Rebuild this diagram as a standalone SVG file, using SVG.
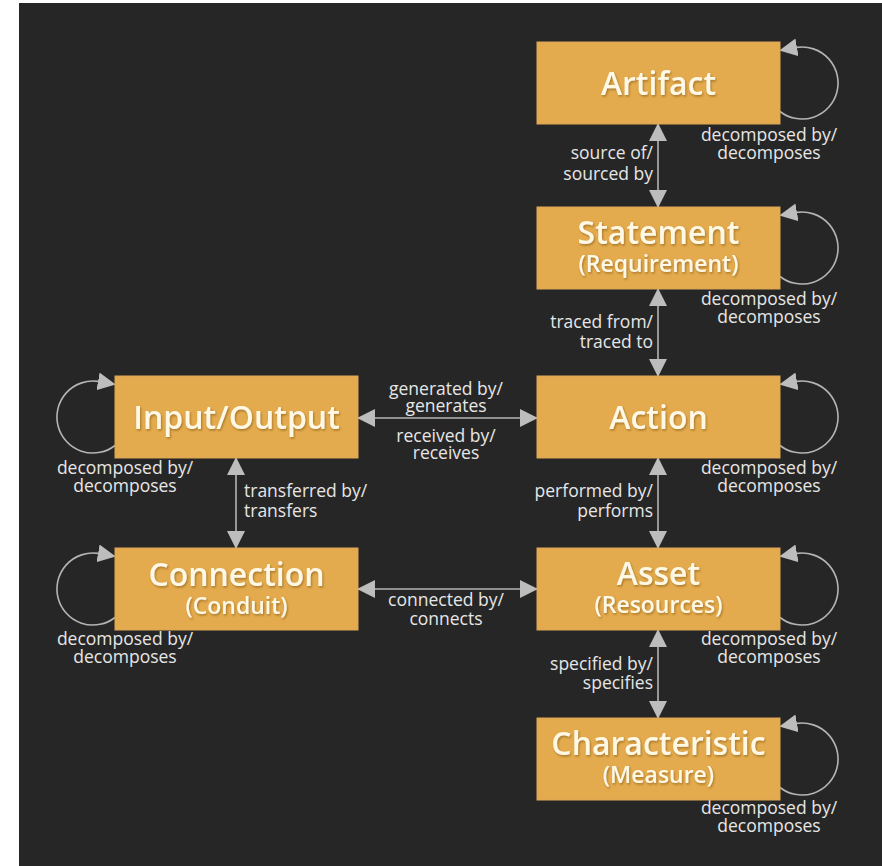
<svg xmlns="http://www.w3.org/2000/svg" width="882" height="866" viewBox="0 0 882 866">
<style>
.box{fill:#e4ab4e;stroke:#dba657;stroke-width:1}
.title{font-family:"Open Sans","Liberation Sans",sans-serif;font-size:32px;font-weight:600;fill:#fff8e4;text-anchor:middle;filter:url(#sh)}
.sub{font-size:23px}
.lbl{font-family:"Open Sans","Liberation Sans",sans-serif;font-size:17.5px;fill:#e6e6e6}
.mid{text-anchor:middle}
.end{text-anchor:end}
.ln{stroke:#b4b4b4;stroke-width:1.6;fill:none}
.dbl{marker-start:url(#ah);marker-end:url(#ah)}
.lpr{marker-end:url(#lr)}
.lpl{marker-end:url(#ll)}
</style>
<defs>
<filter id="sh" x="-10%" y="-20%" width="120%" height="150%">
<feDropShadow dx="1" dy="1.5" stdDeviation="1" flood-color="#7a5216" flood-opacity="0.6"/>
</filter>
<marker id="ah" viewBox="0 0 18 18" markerWidth="18" markerHeight="18" refX="17" refY="9" orient="auto-start-reverse" markerUnits="userSpaceOnUse">
<path d="M0,0 L18,9 L0,18 Z" fill="#bdbdbd"/>
</marker>
<marker id="lr" viewBox="0 0 18 18" markerWidth="18" markerHeight="18" refX="0" refY="9" orient="170" markerUnits="userSpaceOnUse">
<path d="M0,0 L18,9 L0,18 Z" fill="#bdbdbd"/>
</marker>
<marker id="ll" viewBox="0 0 18 18" markerWidth="18" markerHeight="18" refX="0" refY="9" orient="10" markerUnits="userSpaceOnUse">
<path d="M0,0 L18,9 L0,18 Z" fill="#bdbdbd"/>
</marker>
</defs>
<rect x="0" y="0" width="882" height="866" fill="#ffffff"/>
<rect x="19" y="3" width="863" height="863" fill="#262626"/>

<g id="connectors">
<path class="ln dbl" d="M658,124 L658,207"/>
<path class="ln dbl" d="M658,289 L658,376"/>
<path class="ln dbl" d="M658,458 L658,548"/>
<path class="ln dbl" d="M658,630 L658,718"/>
<path class="ln dbl" d="M358,418 L537,418"/>
<path class="ln dbl" d="M358,589 L537,589"/>
<path class="ln dbl" d="M236,458 L236,548"/>
<path class="ln lpr" d="M780,111.5 A36,36 0 1 0 797,47.4"/>
<path class="ln lpr" d="M780,276.5 A36,36 0 1 0 797,212.4"/>
<path class="ln lpr" d="M780,445.5 A36,36 0 1 0 797,381.4"/>
<path class="ln lpr" d="M780,617.5 A36,36 0 1 0 797,553.4"/>
<path class="ln lpr" d="M780,787.5 A36,36 0 1 0 797,723.4"/>
<path class="ln lpl" d="M115,445.5 A36,36 0 1 1 98,381.4"/>
<path class="ln lpl" d="M115,617.5 A36,36 0 1 1 98,553.4"/>
<text class="lbl end" y="159"><tspan x="653">source of/</tspan><tspan x="653" dy="21">sourced by</tspan></text>
<text class="lbl end" y="328"><tspan x="653">traced from/</tspan><tspan x="653" dy="20">traced to</tspan></text>
<text class="lbl end" y="497"><tspan x="653">performed by/</tspan><tspan x="653" dy="20">performs</tspan></text>
<text class="lbl end" y="670"><tspan x="653">specified by/</tspan><tspan x="653" dy="19">specifies</tspan></text>
<text class="lbl mid" y="395"><tspan x="446">generated by/</tspan><tspan x="446" dy="17">generates</tspan></text>
<text class="lbl mid" y="442"><tspan x="446">received by/</tspan><tspan x="446" dy="17">receives</tspan></text>
<text class="lbl mid" y="606"><tspan x="446">connected by/</tspan><tspan x="446" dy="19">connects</tspan></text>
<text class="lbl" y="497"><tspan x="244">transferred by/</tspan><tspan x="244" dy="20">transfers</tspan></text>
<text class="lbl mid" y="141"><tspan x="769">decomposed by/</tspan><tspan x="769" dy="18">decomposes</tspan></text>
<text class="lbl mid" y="305"><tspan x="769">decomposed by/</tspan><tspan x="769" dy="18">decomposes</tspan></text>
<text class="lbl mid" y="474"><tspan x="769">decomposed by/</tspan><tspan x="769" dy="18">decomposes</tspan></text>
<text class="lbl mid" y="645"><tspan x="769">decomposed by/</tspan><tspan x="769" dy="18">decomposes</tspan></text>
<text class="lbl mid" y="814"><tspan x="769">decomposed by/</tspan><tspan x="769" dy="18">decomposes</tspan></text>
<text class="lbl mid" y="474"><tspan x="125">decomposed by/</tspan><tspan x="125" dy="18">decomposes</tspan></text>
<text class="lbl mid" y="645"><tspan x="125">decomposed by/</tspan><tspan x="125" dy="18">decomposes</tspan></text>
</g>

<g id="artifact">
<rect class="box" x="537" y="42" width="243" height="82"/>
<text class="title" x="658.5" y="95">Artifact</text>
</g>
<g id="statement">
<rect class="box" x="537" y="207" width="243" height="82"/>
<text class="title" y="244"><tspan x="658.5">Statement</tspan><tspan class="sub" x="658.5" dy="28">(Requirement)</tspan></text>
</g>
<g id="action">
<rect class="box" x="537" y="376" width="243" height="82"/>
<text class="title" x="658.5" y="429">Action</text>
</g>
<g id="asset">
<rect class="box" x="537" y="548" width="243" height="82"/>
<text class="title" y="585"><tspan x="658.5">Asset</tspan><tspan class="sub" x="658.5" dy="28">(Resources)</tspan></text>
</g>
<g id="characteristic">
<rect class="box" x="537" y="718" width="243" height="82"/>
<text class="title" y="755"><tspan x="658.5">Characteristic</tspan><tspan class="sub" x="658.5" dy="28">(Measure)</tspan></text>
</g>
<g id="input-output">
<rect class="box" x="115" y="376" width="243" height="82"/>
<text class="title" x="236.5" y="429">Input/Output</text>
</g>
<g id="connection">
<rect class="box" x="115" y="548" width="243" height="82"/>
<text class="title" y="586"><tspan x="236.5">Connection</tspan><tspan class="sub" x="236.5" dy="28">(Conduit)</tspan></text>
</g>
</svg>
